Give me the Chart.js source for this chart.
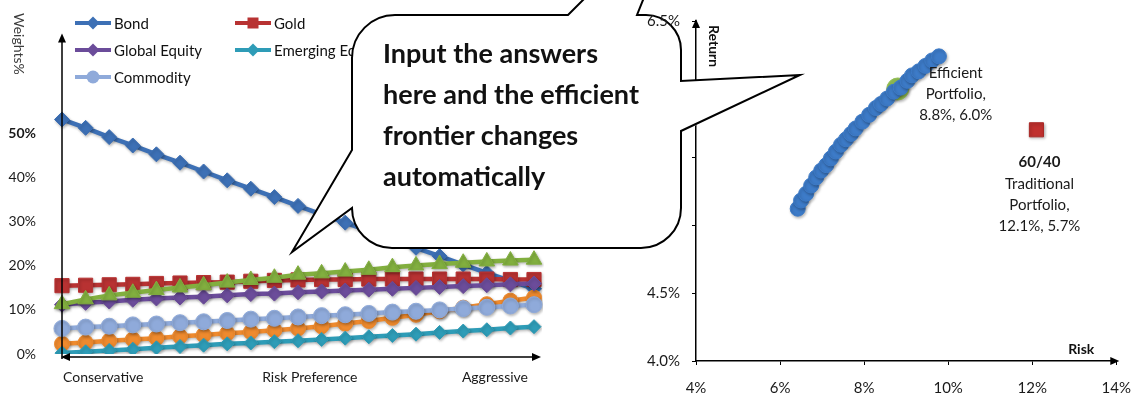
<!DOCTYPE html>
<html>
<head>
<meta charset="utf-8">
<script src="https://cdn.jsdelivr.net/npm/chart.js@4.4.1/dist/chart.umd.min.js"></script>
<style>
  html, body { margin: 0; padding: 0; background: #fff; }
  body { width: 1145px; height: 396px; position: relative; overflow: hidden; font-family: Lato, "DejaVu Sans", sans-serif; }
  #weightsChart { position: absolute; left: 0; top: 0; }
  #frontierChart { position: absolute; left: 600px; top: 0;
    /* keep the chart out of the callout, except around its top tick label */
    clip-path: path('M0,0 V396 H545 V0 Z M-205,15 L-32,15 L83,-100 L37,15 L46,15 A38,38 0 0 1 84,50 L84,81 L200,75 L84,131 L84,232 A16,16 0 0 1 68,248 L-208,248 A40,40 0 0 1 -248,208 L-308,252 L-248,150 L-248,58 A43,43 0 0 1 -205,15 Z M38,3 V27 H86 V3 Z'); }
  #weightsTitle { position: absolute; left: 11px; top: 13px; writing-mode: vertical-rl; font-size: 14px; color: #3c3c3c; }
  .lg { position: absolute; height: 16px; display: flex; align-items: center; font-size: 15px; color: #111; white-space: nowrap; }
  .lg svg { margin-right: 3px; }
  #bubble { position: absolute; left: 0; top: 0; overflow: visible; }
  #bubbleText { position: absolute; left: 383px; top: 32px; font-size: 27px; font-weight: bold; line-height: 41px; color: #111; }
</style>
</head>
<body>
<canvas id="weightsChart" width="560" height="396"></canvas>
<div id="weightsTitle">Weights%</div>
<div id="legend"></div>
<svg id="bubble" width="1145" height="396">
  <path d="M 395,15 L 568,15 L 683,-100 L 637,15 L 646,15 A 35,35 0 0 1 681,50 L 681,81 L 800,75 L 681,131 L 681,208 A 40,40 0 0 1 641,248 L 392,248 A 40,40 0 0 1 352,208 L 292,252 L 352,150 L 352,58 A 43,43 0 0 1 395,15 Z"
        fill="#fff" stroke="#000" stroke-width="2" stroke-linejoin="miter" stroke-miterlimit="6"/>
</svg>
<canvas id="frontierChart" width="545" height="396"></canvas>
<div id="bubbleText">Input the answers<br>here and the efficient<br>frontier changes<br>automatically</div>

<script>
// Risk preference steps, from most conservative (1) to most aggressive (21)
const riskSteps = [1, 2, 3, 4, 5, 6, 7, 8, 9, 10, 11, 12, 13, 14, 15, 16, 17, 18, 19, 20, 21];

// Asset weights at each step, in percent
const bond           = [53.2, 51.3, 49.2, 47.3, 45.3, 43.4, 41.4, 39.4, 37.5, 35.6, 33.6, 31.7, 29.8, 27.9, 26.0, 24.1, 22.2, 20.3, 18.4, 16.6, 14.8];
const gold           = [15.5, 15.6, 15.7, 15.8, 16.0, 16.1, 16.2, 16.3, 16.5, 16.7, 16.8, 16.9, 16.9, 17.0, 17.0, 17.0, 17.0, 17.0, 17.0, 16.9, 16.9];
const highYield      = [2.3, 2.6, 3.0, 3.3, 3.6, 4.0, 4.3, 4.7, 5.0, 5.4, 5.8, 6.3, 6.9, 7.5, 8.2, 8.9, 9.7, 10.5, 11.3, 12.1, 12.8];
const globalEquity   = [11.2, 11.6, 11.9, 12.3, 12.6, 12.8, 13.0, 13.3, 13.6, 13.7, 14.0, 14.2, 14.4, 14.6, 14.8, 15.0, 15.2, 15.4, 15.6, 15.8, 16.0];
const emergingEquity = [0.2, 0.5, 0.8, 1.1, 1.4, 1.7, 2.0, 2.3, 2.5, 2.8, 3.0, 3.3, 3.6, 3.9, 4.2, 4.5, 4.9, 5.2, 5.5, 5.9, 6.2];
const realEstate     = [11.3, 12.4, 13.3, 13.9, 14.5, 15.1, 15.6, 16.2, 16.8, 17.3, 18.0, 18.3, 18.7, 19.1, 19.7, 20.1, 20.4, 20.7, 21.0, 21.2, 21.4];
const commodity      = [5.8, 6.1, 6.3, 6.6, 6.8, 7.1, 7.3, 7.6, 7.9, 8.1, 8.4, 8.7, 8.9, 9.2, 9.5, 9.7, 10.0, 10.3, 10.6, 10.9, 11.2];

// Weight axis tick labels (percent)
const weightTicks = [0, 10, 20, 30, 40, 50];
// Captions under the risk-preference axis
const preferenceCaptions = ['Conservative', 'Risk Preference', 'Aggressive'];

// Efficient frontier: risk (%) and return (%) of each optimised portfolio
const frontierRisk   = [6.42, 6.50, 6.62, 6.74, 6.86, 6.98, 7.10, 7.21, 7.33, 7.45, 7.57, 7.69, 7.80, 7.96, 8.12, 8.28, 8.40, 8.55, 8.71, 8.87, 9.03, 9.14, 9.30, 9.46, 9.62, 9.78];
const frontierReturn = [5.12, 5.18, 5.23, 5.29, 5.35, 5.40, 5.44, 5.49, 5.54, 5.59, 5.63, 5.67, 5.71, 5.76, 5.81, 5.86, 5.89, 5.93, 5.98, 6.01, 6.06, 6.10, 6.13, 6.17, 6.21, 6.24];
// Selected efficient portfolio and the 60/40 benchmark
const efficientRisk = [8.8], efficientReturn = [6.0];
const traditionalRisk = [12.1], traditionalReturn = [5.7];

// Risk / return axis tick labels (percent)
const riskTicks = [4, 6, 8, 10, 12, 14];
const returnTicks = [4.0, 4.5, 5.0, 5.5, 6.0, 6.5];

const FONT = 'Lato, "DejaVu Sans", sans-serif';
Chart.defaults.font.family = FONT;
Chart.defaults.color = '#1a1a1a';

// Series in plotting order (later ones sit on top)
const series = [
  { label: 'Bond',            data: bond,           color: '#3D70B5', style: 'rectRot',  radius: 7.5,  legend: true },
  { label: 'Gold',            data: gold,           color: '#B83232', style: 'rect',     radius: 10,   legend: true },
  { label: 'High Yield',      data: highYield,      color: '#EE8A2E', style: 'circle',   radius: 7.5,  legend: false },
  { label: 'Global Equity',   data: globalEquity,   color: '#6B4C9A', style: 'rectRot',  radius: 7.5,  legend: true },
  { label: 'Emerging Equity', data: emergingEquity, color: '#2E9CB7', style: 'rectRot',  radius: 7,    legend: true },
  { label: 'Real Estate',     data: realEstate,     color: '#82AF3F', style: 'triangle', radius: 9,    legend: false },
  { label: 'Commodity',       data: commodity,      color: '#8FAADA', style: 'circle',   radius: 8,    legend: true }
];

function arrowHead(ctx, x, y, dir) {
  const len = 9, half = 4;
  ctx.beginPath();
  if (dir === 'up')    { ctx.moveTo(x, y); ctx.lineTo(x - half, y + len); ctx.lineTo(x + half, y + len); }
  if (dir === 'right') { ctx.moveTo(x, y); ctx.lineTo(x - len, y - half); ctx.lineTo(x - len, y + half); }
  if (dir === 'left')  { ctx.moveTo(x, y); ctx.lineTo(x + len, y - half); ctx.lineTo(x + len, y + half); }
  ctx.closePath();
  ctx.fill();
}

// Soft drop shadow under the plotted marks
const softShadow = {
  id: 'softShadow',
  beforeDatasetsDraw(chart) {
    const ctx = chart.ctx;
    ctx.save();
    ctx.shadowColor = 'rgba(0,0,0,0.28)';
    ctx.shadowBlur = 3;
    ctx.shadowOffsetX = 1;
    ctx.shadowOffsetY = 1.5;
  },
  afterDatasetsDraw(chart) {
    chart.ctx.restore();
  }
};

// Axis lines with arrowheads and the preference captions
const weightAxes = {
  id: 'weightAxes',
  afterDraw(chart) {
    const { ctx, chartArea: a, scales: { x } } = chart;
    const y0 = a.bottom + 3;
    ctx.save();
    ctx.strokeStyle = '#000';
    ctx.fillStyle = '#000';
    ctx.lineWidth = 1.5;
    ctx.beginPath();
    ctx.moveTo(a.left, a.top + 4);
    ctx.lineTo(a.left, y0 + 2);
    ctx.moveTo(a.left + 4, y0);
    ctx.lineTo(a.right + 2, y0);
    ctx.stroke();
    arrowHead(ctx, a.left, a.top - 1, 'up');
    arrowHead(ctx, a.right + 7, y0, 'right');
    arrowHead(ctx, a.left - 1, y0, 'left');

    ctx.fillStyle = '#1a1a1a';
    ctx.font = '14px ' + FONT;
    ctx.textBaseline = 'middle';
    const cy = a.bottom + 23;
    ctx.textAlign = 'left';
    ctx.fillText(preferenceCaptions[0], x.getPixelForValue(0) + 1, cy);
    ctx.textAlign = 'center';
    ctx.fillText(preferenceCaptions[1], (x.getPixelForValue(10) + x.getPixelForValue(11)) / 2, cy);
    ctx.textAlign = 'right';
    ctx.fillText(preferenceCaptions[2], x.getPixelForValue(20) - 6, cy);
    ctx.restore();
  }
};

new Chart(document.getElementById('weightsChart'), {
  type: 'line',
  data: {
    labels: riskSteps,
    datasets: series.map((s, i) => ({
      label: s.label,
      data: s.data,
      borderColor: s.color,
      backgroundColor: s.color,
      borderWidth: 4.5,
      pointStyle: s.style,
      pointRadius: s.radius,
      pointBackgroundColor: s.color,
      pointBorderColor: s.color,
      pointBorderWidth: 1,
      tension: 0,
      order: series.length - i
    }))
  },
  options: {
    responsive: false,
    animation: false,
    devicePixelRatio: 1,
    layout: { padding: { top: 15, right: 26, left: 0, bottom: 0 } },
    plugins: { legend: { display: false }, tooltip: { enabled: false } },
    scales: {
      x: {
        type: 'category',
        offset: false,
        grid: { display: false, drawTicks: false },
        border: { display: false },
        ticks: { display: false },
        afterFit: (s) => { s.height = 42; }
      },
      y: {
        min: 0,
        max: 72.5,
        grid: { display: false, drawTicks: false },
        border: { display: false },
        afterBuildTicks: (s) => { s.ticks = weightTicks.map(v => ({ value: v })); },
        ticks: {
          padding: 26,
          color: '#1a1a1a',
          font: (c) => ({ size: 14, weight: (c.tick && c.tick.value === 50) ? 'bold' : 'normal' }),
          callback: (v) => v + '%'
        },
        afterFit: (s) => { s.width = 62; }
      }
    }
  },
  plugins: [softShadow, weightAxes]
});

// HTML legend laid out in three columns
const legendEl = document.getElementById('legend');
function markerSvg(style, color) {
  let m = '';
  if (style === 'rectRot') m = `<polygon points="18,1.5 24.5,8 18,14.5 11.5,8" fill="${color}"/>`;
  if (style === 'rect') m = `<rect x="12.5" y="2.5" width="11" height="11" fill="${color}"/>`;
  if (style === 'circle') m = `<circle cx="18" cy="8" r="6.5" fill="${color}"/>`;
  if (style === 'triangle') m = `<polygon points="18,2 24,13 12,13" fill="${color}"/>`;
  return `<svg width="36" height="16"><line x1="0" y1="8" x2="36" y2="8" stroke="${color}" stroke-width="4"/>${m}</svg>`;
}
series.forEach((s, i) => {
  if (!s.legend) return;
  const col = i % 3, row = Math.floor(i / 3);
  const d = document.createElement('div');
  d.className = 'lg';
  d.style.left = (75 + col * 160) + 'px';
  d.style.top = (15 + row * 27) + 'px';
  d.innerHTML = markerSvg(s.style, s.color) + '<span>' + s.label + '</span>';
  legendEl.appendChild(d);
});

// Axis arrows, axis titles and point annotations for the frontier chart
const frontierDecor = {
  id: 'frontierDecor',
  afterDraw(chart) {
    const { ctx, chartArea: a, scales: { x, y } } = chart;
    ctx.save();
    ctx.fillStyle = '#000';
    arrowHead(ctx, a.left, a.top - 2, 'up');
    arrowHead(ctx, a.right + 3, a.bottom, 'right');

    ctx.fillStyle = '#111';
    ctx.font = 'bold 14px ' + FONT;
    ctx.save();
    ctx.translate(a.left + 12, a.top + 4);
    ctx.rotate(Math.PI / 2);
    ctx.textAlign = 'left';
    ctx.textBaseline = 'middle';
    ctx.fillText('Return', 0, -6);
    ctx.restore();

    ctx.textAlign = 'right';
    ctx.textBaseline = 'middle';
    ctx.fillText('Risk', a.right - 22, a.bottom - 12);

    ctx.textAlign = 'center';
    ctx.fillStyle = '#1a1a1a';
    ctx.font = '15px ' + FONT;
    const ex = x.getPixelForValue(efficientRisk[0]), ey = y.getPixelForValue(efficientReturn[0]);
    ['Efficient', 'Portfolio,', efficientRisk[0].toFixed(1) + '%, ' + efficientReturn[0].toFixed(1) + '%']
      .forEach((t, i) => ctx.fillText(t, ex + 58, ey - 16 + i * 21));

    const tx = x.getPixelForValue(traditionalRisk[0]), ty = y.getPixelForValue(traditionalReturn[0]);
    ctx.font = 'bold 15px ' + FONT;
    ctx.fillText('60/40', tx + 3, ty + 32);
    ctx.font = '15px ' + FONT;
    ['Traditional', 'Portfolio,', traditionalRisk[0].toFixed(1) + '%, ' + traditionalReturn[0].toFixed(1) + '%']
      .forEach((t, i) => ctx.fillText(t, tx + 3, ty + 54 + i * 21));
    ctx.restore();
  }
};

const toPoints = (xs, ys) => xs.map((v, i) => ({ x: v, y: ys[i] }));

new Chart(document.getElementById('frontierChart'), {
  type: 'scatter',
  data: {
    datasets: [
      { label: 'Efficient Frontier', data: toPoints(frontierRisk, frontierReturn), pointStyle: 'circle', pointRadius: 7.5,
        backgroundColor: '#3D7BC8', borderColor: '#3D7BC8', borderWidth: 1, order: 1 },
      { label: 'Efficient Portfolio', data: toPoints(efficientRisk, efficientReturn), pointStyle: 'circle', pointRadius: 11,
        backgroundColor: '#94C055', borderColor: '#94C055', borderWidth: 1, order: 2 },
      { label: '60/40 Traditional Portfolio', data: toPoints(traditionalRisk, traditionalReturn), pointStyle: 'rect', pointRadius: 10,
        backgroundColor: '#C0302E', borderColor: '#A82826', borderWidth: 1, order: 3 }
    ]
  },
  options: {
    responsive: false,
    animation: false,
    devicePixelRatio: 1,
    layout: { padding: { top: 15, right: 27, left: 0, bottom: 0 } },
    plugins: { legend: { display: false }, tooltip: { enabled: false } },
    scales: {
      x: {
        type: 'linear',
        min: riskTicks[0],
        max: riskTicks[riskTicks.length - 1],
        grid: { display: true, drawOnChartArea: false, drawTicks: true, tickLength: 4, color: '#000', tickColor: '#000' },
        border: { display: true, color: '#000', width: 1.5 },
        afterBuildTicks: (s) => { s.ticks = riskTicks.map(v => ({ value: v })); },
        ticks: { padding: 14, font: { size: 15 }, color: '#1a1a1a', callback: (v) => v + '%' },
        afterFit: (s) => { s.height = 35; }
      },
      y: {
        type: 'linear',
        min: returnTicks[0],
        max: returnTicks[returnTicks.length - 1],
        grid: { display: true, drawOnChartArea: false, drawTicks: true, tickLength: 4, color: '#000', tickColor: '#000' },
        border: { display: true, color: '#000', width: 1.5 },
        afterBuildTicks: (s) => { s.ticks = returnTicks.map(v => ({ value: v })); },
        ticks: { padding: 12, font: { size: 15 }, color: '#1a1a1a', callback: (v) => Number(v).toFixed(1) + '%' },
        afterFit: (s) => { s.width = 96; }
      }
    }
  },
  plugins: [softShadow, frontierDecor]
});
</script>
</body>
</html>
